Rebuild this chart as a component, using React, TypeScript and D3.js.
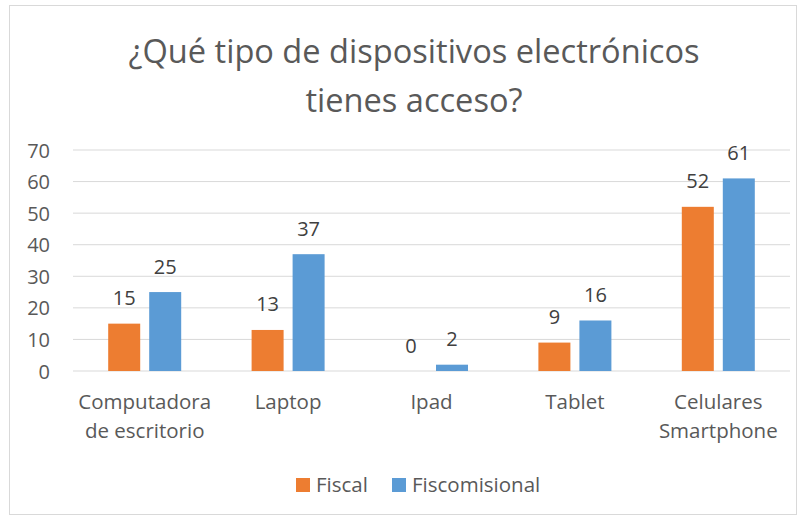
import React from "react";
import * as d3 from "d3";

const categories = [["Computadora", "de escritorio"], ["Laptop"], ["Ipad"], ["Tablet"], ["Celulares", "Smartphone"]];
const categoryKeys = ["Computadora de escritorio", "Laptop", "Ipad", "Tablet", "Celulares Smartphone"];
const seriesNames = ["Fiscal", "Fiscomisional"];
const fiscal = [15, 13, 0, 9, 52];
const fiscomisional = [25, 37, 2, 16, 61];
const yTicks = [0, 10, 20, 30, 40, 50, 60, 70];
const colors = ["#ED7D31", "#5B9BD5"];
const titleLines = ["¿Qué tipo de dispositivos electrónicos", "tienes acceso?"];

const W = 804, H = 519;
const FONT = "'Open Sans', sans-serif";
const TXT = "#595959";

export default function App() {
  const x0 = d3.scaleBand<string>().domain(categoryKeys).range([73, 790]).paddingInner(0.49).paddingOuter(0.245);
  const xCenter = (k: string) => (x0(k) as number) + x0.bandwidth() / 2;
  const barW = 32, gap = 9;
  const y = d3.scaleLinear().domain([0, 70]).range([371, 150]);
  const series = [fiscal, fiscomisional];

  return (
    <svg width={W} height={H} style={{ position: "absolute", left: 0, top: 0, background: "#fff" }} fontFamily={FONT}>
      <rect x={0} y={0} width={W} height={H} fill="#fff" />
      <rect x={9.5} y={5.5} width={787} height={509} fill="none" stroke="#D9D9D9" strokeWidth={1} />
      {titleLines.map((t, i) => (
        <text key={i} x={414} y={63 + i * 49} textAnchor="middle" fontSize={32.6} fill={TXT}>{t}</text>
      ))}
      {yTicks.map((t) => (
        <g key={t}>
          <line x1={73} x2={790} y1={y(t)} y2={y(t)} stroke="#D9D9D9" strokeWidth={1} />
          <text x={50} y={y(t) + 7.5} textAnchor="end" fontSize={20} fill={TXT}>{t}</text>
        </g>
      ))}
      {categoryKeys.map((k, ci) => {
        const cx = xCenter(k);
        return (
          <g key={k}>
            {series.map((s, si) => {
              const bx = si === 0 ? cx - gap / 2 - barW : cx + gap / 2;
              const v = s[ci];
              return (
                <g key={si}>
                  {v > 0 && <rect x={bx} y={y(v)} width={barW} height={y(0) - y(v)} fill={colors[si]} />}
                  <text x={bx + barW / 2} y={y(v) - 18.5} textAnchor="middle" fontSize={20} fill="#404040">{v}</text>
                </g>
              );
            })}
            {categories[ci].map((line, li) => (
              <text key={li} x={cx} y={409 + li * 29} textAnchor="middle" fontSize={20.5} fill={TXT}>{line}</text>
            ))}
          </g>
        );
      })}
      {seriesNames.map((n, i) => {
        const lx = i === 0 ? 296 : 392;
        return (
          <g key={n}>
            <rect x={lx} y={478} width={14} height={14} fill={colors[i]} />
            <text x={lx + 20} y={492} fontSize={20.5} fill={TXT}>{n}</text>
          </g>
        );
      })}
    </svg>
  );
}
